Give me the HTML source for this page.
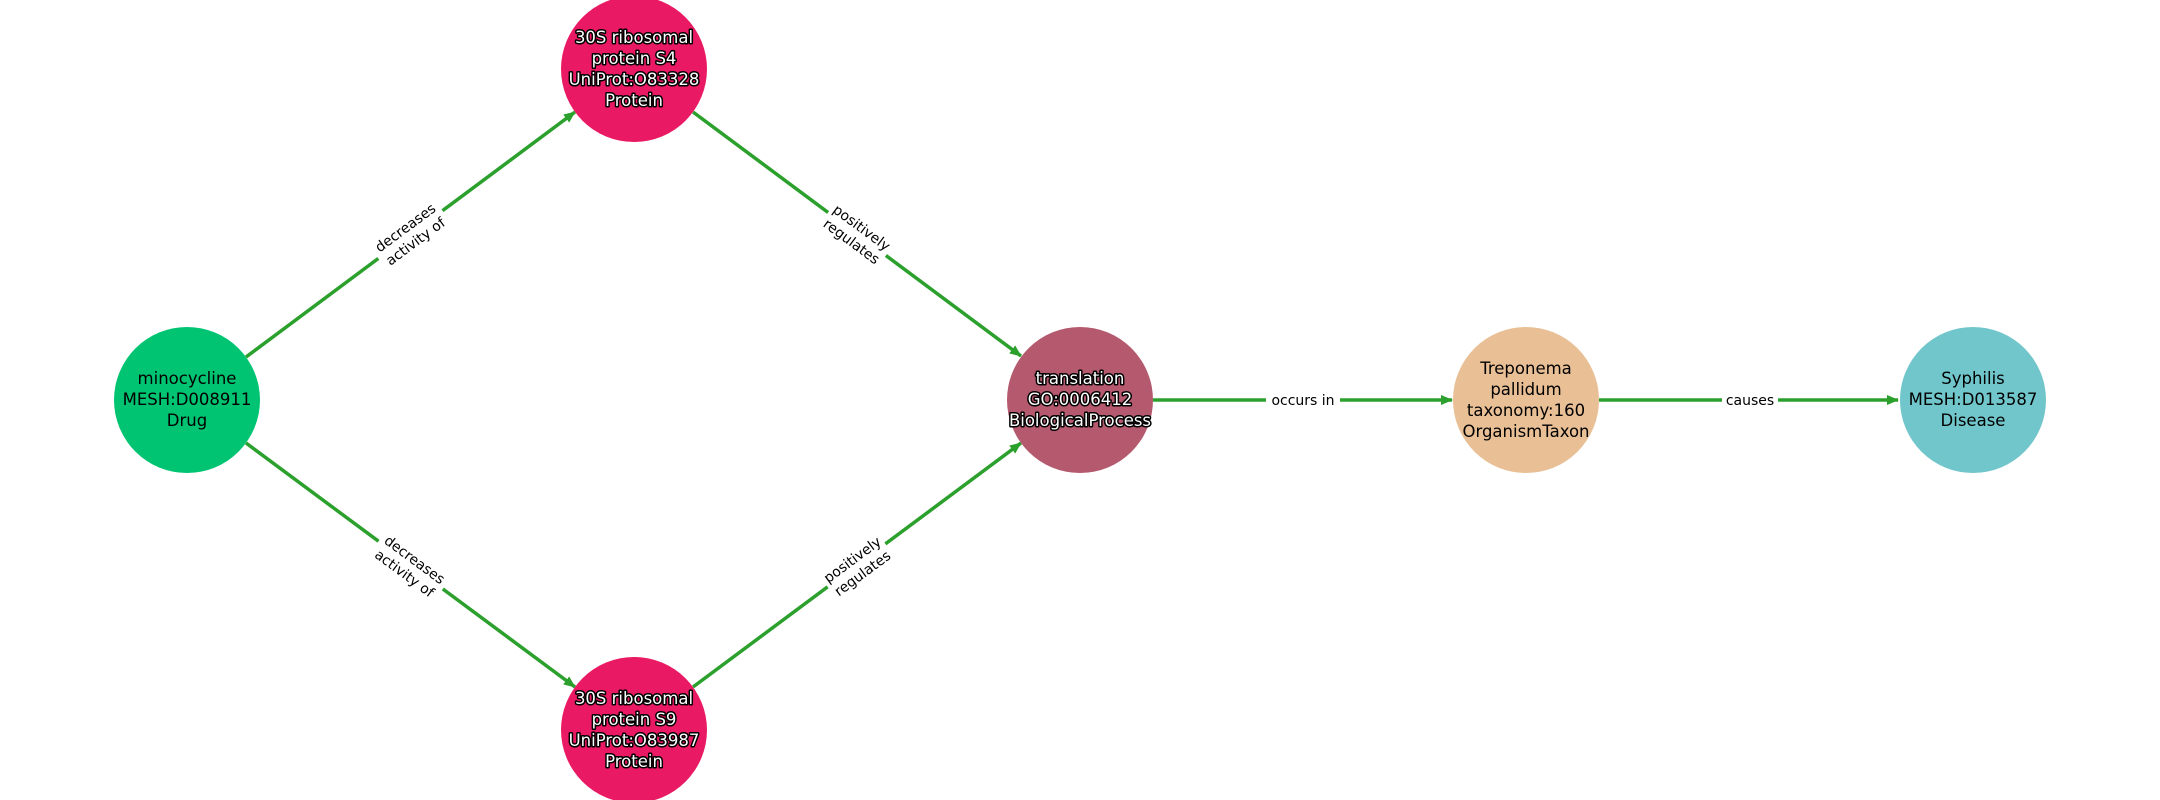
<!DOCTYPE html>
<html><head><meta charset="utf-8"><style>
html,body{margin:0;padding:0;background:#fff;}
svg{display:block;}
.n{font-family:"DejaVu Sans","Liberation Sans",sans-serif;font-size:16.5px;text-anchor:middle;}
.w{fill:#fff;stroke:#000;stroke-width:3px;paint-order:stroke;stroke-linejoin:round;}
.b{fill:#000;}
.e{font-family:"DejaVu Sans","Liberation Sans",sans-serif;font-size:14px;text-anchor:middle;fill:#000;}
</style></head><body>
<svg width="2160" height="800" viewBox="0 0 2160 800" xmlns="http://www.w3.org/2000/svg">
<defs><marker id="a" markerWidth="12" markerHeight="10" refX="11" refY="5" orient="auto" markerUnits="userSpaceOnUse"><path d="M0,0 L12,5 L0,10 Z" fill="#2ca02c"/></marker></defs>
<g stroke="#2ca02c" stroke-width="3.5" fill="none" marker-end="url(#a)">
<line x1="246" y1="357" x2="575" y2="112"/>
<line x1="246" y1="443" x2="575" y2="687"/>
<line x1="693" y1="112" x2="1021" y2="356"/>
<line x1="693" y1="687" x2="1021" y2="443"/>
<line x1="1153" y1="400" x2="1452" y2="400"/>
<line x1="1599" y1="400" x2="1898" y2="400"/>
</g>
<g>
<g transform="translate(410,234) rotate(-36.5)"><rect x="-40" y="-18" width="80" height="36" fill="#fff"/><text class="e" y="-3">decreases</text><text class="e" y="14">activity of</text></g>
<g transform="translate(410,566) rotate(36.5)"><rect x="-40" y="-18" width="80" height="36" fill="#fff"/><text class="e" y="-3">decreases</text><text class="e" y="14">activity of</text></g>
<g transform="translate(857,234) rotate(36.5)"><rect x="-36" y="-18" width="72" height="36" fill="#fff"/><text class="e" y="-3">positively</text><text class="e" y="14">regulates</text></g>
<g transform="translate(857,566) rotate(-36.5)"><rect x="-36" y="-18" width="72" height="36" fill="#fff"/><text class="e" y="-3">positively</text><text class="e" y="14">regulates</text></g>
<rect x="1266" y="390" width="74" height="20" fill="#fff"/><text class="e" x="1303" y="405">occurs in</text>
<rect x="1722" y="390" width="56" height="20" fill="#fff"/><text class="e" x="1750" y="405">causes</text>
</g>
<circle cx="187" cy="400" r="73" fill="#00c472"/>
<circle cx="634" cy="69" r="73" fill="#e91a63"/>
<circle cx="634" cy="730" r="73" fill="#e91a63"/>
<circle cx="1080" cy="400" r="73" fill="#b5596e"/>
<circle cx="1526" cy="400" r="73" fill="#e9bf96"/>
<circle cx="1973" cy="400" r="73" fill="#71c6cb"/>
<text class="n b" x="187" y="384">minocycline</text><text class="n b" x="187" y="405">MESH:D008911</text><text class="n b" x="187" y="426">Drug</text>
<text class="n w" x="634" y="43">30S ribosomal</text><text class="n w" x="634" y="64">protein S4</text><text class="n w" x="634" y="85">UniProt:O83328</text><text class="n w" x="634" y="106">Protein</text>
<text class="n w" x="634" y="704">30S ribosomal</text><text class="n w" x="634" y="725">protein S9</text><text class="n w" x="634" y="746">UniProt:O83987</text><text class="n w" x="634" y="767">Protein</text>
<text class="n w" x="1080" y="384">translation</text><text class="n w" x="1080" y="405">GO:0006412</text><text class="n w" x="1080" y="426">BiologicalProcess</text>
<text class="n b" x="1526" y="374">Treponema</text><text class="n b" x="1526" y="395">pallidum</text><text class="n b" x="1526" y="416">taxonomy:160</text><text class="n b" x="1526" y="437">OrganismTaxon</text>
<text class="n b" x="1973" y="384">Syphilis</text><text class="n b" x="1973" y="405">MESH:D013587</text><text class="n b" x="1973" y="426">Disease</text>
</svg>
</body></html>
